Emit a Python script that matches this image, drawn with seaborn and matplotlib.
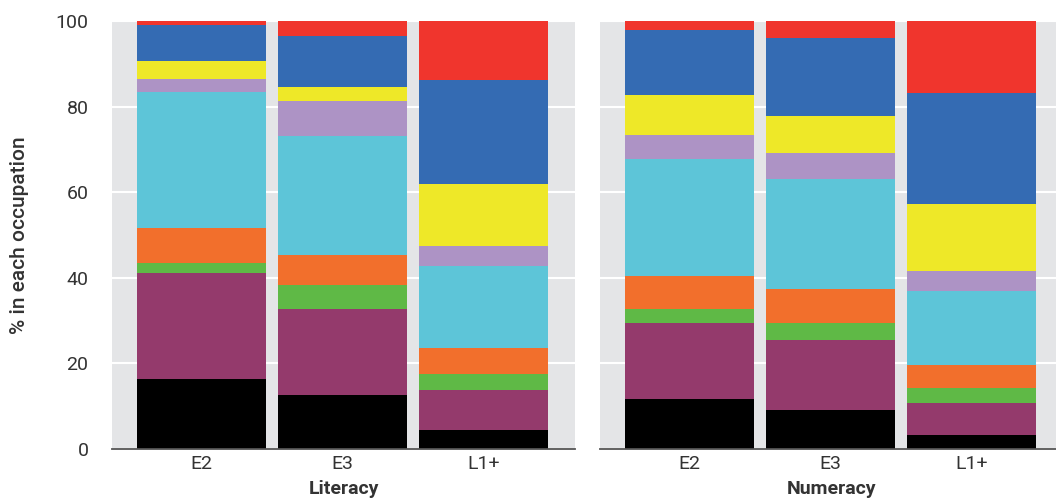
import pandas as pd
import matplotlib.pyplot as plt
import seaborn as sns

# Categories and stacked shares (%), bottom segment first
levels = ['E2', 'E3', 'L1+']
groups = ['Group 1', 'Group 2', 'Group 3', 'Group 4', 'Group 5',
          'Group 6', 'Group 7', 'Group 8', 'Group 9']

literacy = {
    'E2': [16.4, 24.7, 2.4, 8.1, 31.9, 3.0, 4.2, 8.4, 0.9],
    'E3': [12.6, 20.1, 5.6, 7.0, 27.9, 8.1, 3.3, 12.0, 3.4],
    'L1+': [4.4, 9.4, 3.7, 6.1, 19.2, 4.6, 14.5, 24.4, 13.7],
}
numeracy = {
    'E2': [11.7, 17.7, 3.3, 7.8, 27.3, 5.6, 9.3, 15.2, 2.1],
    'E3': [9.1, 16.4, 3.9, 8.0, 25.7, 6.1, 8.6, 18.3, 3.9],
    'L1+': [3.3, 7.4, 3.6, 5.3, 17.3, 4.7, 15.6, 25.9, 16.9],
}

colors = ['#000000', '#943a6c', '#5fb946', '#f26f2c', '#5dc5d8',
          '#ad93c5', '#eee828', '#346bb3', '#f0352d']

sns.set_style('white')
plt.rcParams['font.family'] = ['Roboto', 'DejaVu Sans']

fig = plt.figure(figsize=(10.56, 5), dpi=100)
ax_l = fig.add_axes([112 / 1056, 51 / 500, 463 / 1056, 428 / 500])
ax_r = fig.add_axes([600 / 1056, 51 / 500, 463 / 1056, 428 / 500])


def draw_panel(ax, data, label, show_y):
    rows = []
    for lvl in levels:
        total = 0
        for g, v in zip(groups, data[lvl]):
            total += v
            rows.append({'level': lvl, 'group': g, 'cum': total})
    df = pd.DataFrame(rows)
    # draw cumulative totals from the top down so lower segments overlay
    for g, c in reversed(list(zip(groups, colors))):
        sub = df[df['group'] == g]
        sns.barplot(data=sub, x='level', y='cum', order=levels, color=c,
                    width=0.915, linewidth=0, saturation=1, ax=ax, zorder=3)

    ax.set_facecolor('#e4e5e7')
    ax.set_xlim(-0.635, 2.65)
    ax.set_ylim(0, 100)
    ax.set_yticks([0, 20, 40, 60, 80, 100])
    ax.grid(axis='y', color='white', linewidth=1.5, zorder=1)
    ax.set_axisbelow(True)
    for s in ['top', 'right', 'left']:
        ax.spines[s].set_visible(False)
    ax.spines['bottom'].set_color('#555555')
    ax.spines['bottom'].set_linewidth(1.3)
    ax.spines['bottom'].set_zorder(5)
    ax.tick_params(axis='both', length=0, labelsize=14, colors='#333333')
    ax.tick_params(axis='y', pad=17)
    ax.tick_params(axis='x', pad=4)
    ax.set_xlabel(label, fontsize=14, fontweight='bold', color='#333333',
                  labelpad=5)
    if show_y:
        ax.set_ylabel('% in each occupation', fontsize=15, color='#333333',
                      fontweight='medium', labelpad=19)
    else:
        ax.set_ylabel('')
        ax.set_yticklabels([])


draw_panel(ax_l, literacy, 'Literacy', True)
draw_panel(ax_r, numeracy, 'Numeracy', False)

plt.savefig('out.png', dpi=100)
